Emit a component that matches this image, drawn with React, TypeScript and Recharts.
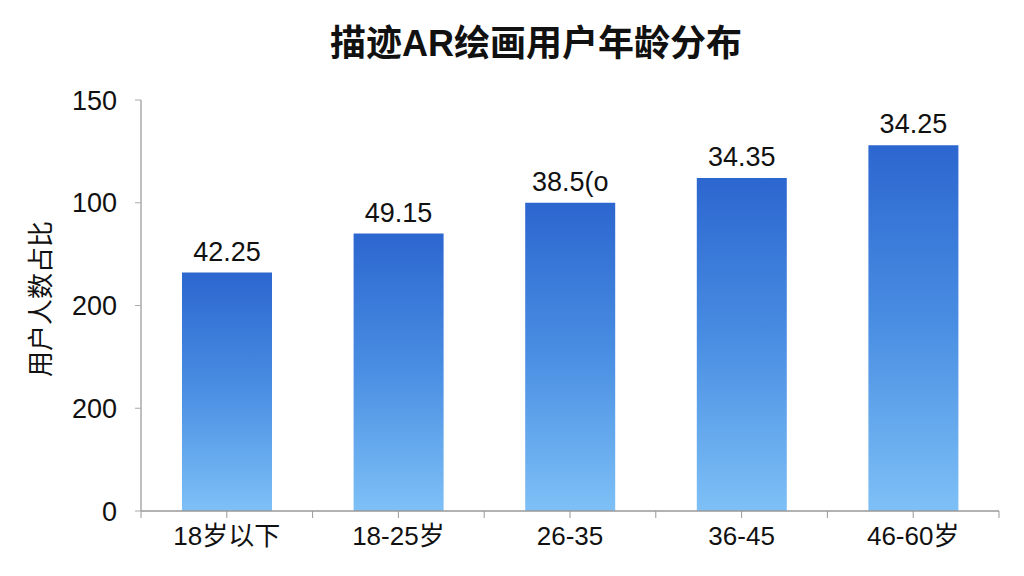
import React from 'react';
import { BarChart, Bar, XAxis, YAxis, LabelList } from 'recharts';

const categories = ['18岁以下', '18-25岁', '26-35', '36-45', '46-60岁'];
const barValues = [116, 135, 150, 162, 178];
const barLabels = ['42.25', '49.15', '38.5(o', '34.35', '34.25'];
const yTicks = [0, 50, 100, 150, 200];
const yTickLabels = ['0', '200', '200', '100', '150'];

const data = categories.map((name, i) => ({ name, value: barValues[i], label: barLabels[i] }));

const FONT = '"Liberation Sans", "Noto Sans CJK SC", sans-serif';
const W = 1024;
const H = 576;
const MARGIN = { top: 100, right: 25, bottom: 0, left: 60 };
const Y_WIDTH = 81;
const BAND = (W - MARGIN.left - MARGIN.right - Y_WIDTH) / categories.length;

const XTick = (props: any) => {
  const { x, y, payload, index } = props;
  const axisY = y - 8;
  return (
    <g>
      <line x1={x} y1={axisY} x2={x} y2={axisY + 7} stroke="#999" />
      <line x1={x - BAND / 2} y1={axisY} x2={x - BAND / 2} y2={axisY + 7} stroke="#999" />
      {index === categories.length - 1 && (
        <line x1={x + BAND / 2} y1={axisY} x2={x + BAND / 2} y2={axisY + 7} stroke="#999" />
      )}
      <text x={x} y={axisY + 16} dy="0.71em" textAnchor="middle" fill="#111" fontSize={26} fontFamily={FONT}>
        {payload.value}
      </text>
    </g>
  );
};

export default function App() {
  return (
    <div style={{ position: 'fixed', left: 0, top: 0, width: W, height: H, background: '#fff' }}>
      <div
        style={{
          position: 'absolute',
          top: 22,
          left: 24,
          width: W,
          textAlign: 'center',
          fontFamily: FONT,
          fontSize: 36,
          fontWeight: 700,
          color: '#111',
          lineHeight: '44px',
        }}
      >
        描迹AR绘画用户年龄分布
      </div>
      <div
        style={{
          position: 'absolute',
          left: 38,
          top: 299,
          transform: 'translate(-50%, -50%) rotate(-90deg)',
          whiteSpace: 'nowrap',
          fontFamily: FONT,
          fontSize: 26,
          color: '#111',
        }}
      >
        用户人数占比
      </div>
      <BarChart width={W} height={H} data={data} margin={MARGIN} barSize={90}>
        <defs>
          <linearGradient id="barGrad" x1="0" y1="0" x2="0" y2="1">
            <stop offset="0%" stopColor="#2C66CF" />
            <stop offset="50%" stopColor="#4A8FE3" />
            <stop offset="100%" stopColor="#7EC0F6" />
          </linearGradient>
        </defs>
        <XAxis
          dataKey="name"
          height={65}
          axisLine={{ stroke: '#999', strokeWidth: 1.5 }}
          tickLine={false}
          tick={<XTick />}
          interval={0}
        />
        <YAxis
          width={Y_WIDTH}
          domain={[0, 200]}
          ticks={yTicks}
          tickFormatter={(v: number) => yTickLabels[yTicks.indexOf(v)]}
          axisLine={{ stroke: '#aaa', strokeWidth: 1.5 }}
          tickLine={{ stroke: '#aaa' }}
          tickSize={6}
          tickMargin={18}
          tick={{ fill: '#111', fontSize: 27, fontFamily: FONT }}
        />
        <Bar dataKey="value" fill="url(#barGrad)" isAnimationActive={false}>
          <LabelList
            dataKey="label"
            position="top"
            offset={12}
            fill="#111"
            fontSize={27}
            fontFamily={FONT}
          />
        </Bar>
      </BarChart>
    </div>
  );
}
